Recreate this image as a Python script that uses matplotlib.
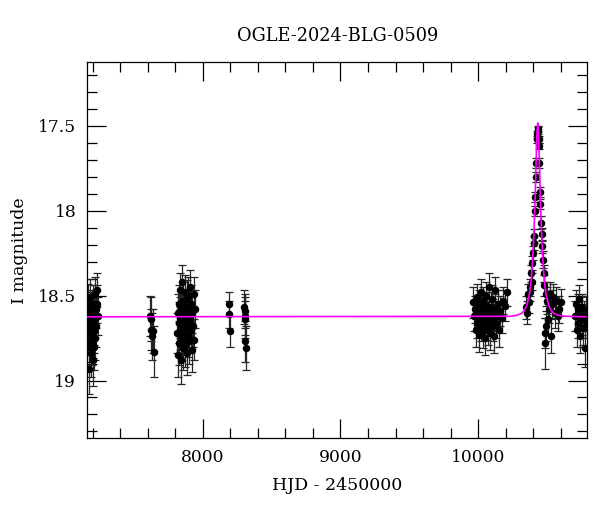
#imports
import numpy as np
import matplotlib
matplotlib.use("Agg")
import matplotlib.pyplot as plt
from matplotlib.ticker import MultipleLocator

#photometry (HJD-2450000, I mag, error)
#season 1 (left edge)
t1 = [7168, 7170, 7172, 7173, 7175, 7176, 7178, 7180, 7181, 7183,
      7185, 7186, 7188, 7190, 7192, 7193, 7195, 7197, 7199, 7201,
      7203, 7205, 7207, 7209, 7211, 7213, 7215, 7218, 7220, 7223,
      7226, 7229, 7233, 7238]
m1 = [18.55, 18.72, 18.62, 18.80, 18.93, 18.68, 18.58, 18.76, 18.64, 18.51,
      18.70, 18.84, 18.60, 18.66, 18.78, 18.57, 18.69, 18.62, 18.88, 18.74,
      18.55, 18.65, 18.71, 18.60, 18.80, 18.67, 18.49, 18.63, 18.75, 18.58,
      18.68, 18.55, 18.47, 18.62]
e1 = [0.12, 0.13, 0.11, 0.14, 0.15, 0.12, 0.10, 0.13, 0.12, 0.11,
      0.13, 0.14, 0.12, 0.11, 0.13, 0.10, 0.12, 0.12, 0.15, 0.13,
      0.11, 0.12, 0.13, 0.11, 0.14, 0.12, 0.10, 0.12, 0.13, 0.11,
      0.12, 0.11, 0.10, 0.11]

#season 2
t2 = [7618, 7622, 7626, 7630, 7636, 7642]
m2 = [18.62, 18.64, 18.70, 18.74, 18.71, 18.83]
e2 = [0.12, 0.13, 0.12, 0.14, 0.13, 0.15]

#season 3
t3 = [7816, 7819, 7822, 7824, 7827, 7829, 7832, 7834, 7837, 7839,
      7842, 7844, 7847, 7849, 7852, 7854, 7857, 7860, 7862, 7865,
      7868, 7870, 7873, 7876, 7879, 7882, 7885, 7888, 7891, 7894,
      7897, 7900, 7903, 7906, 7909, 7912, 7916, 7920, 7924, 7928,
      7933, 7938, 7943]
m3 = [18.72, 18.60, 18.85, 18.66, 18.55, 18.78, 18.63, 18.47, 18.70, 18.88,
      18.58, 18.67, 18.42, 18.75, 18.62, 18.53, 18.81, 18.68, 18.59, 18.73,
      18.48, 18.64, 18.79, 18.57, 18.69, 18.52, 18.84, 18.61, 18.74, 18.50,
      18.66, 18.58, 18.77, 18.45, 18.63, 18.70, 18.55, 18.82, 18.60, 18.68,
      18.49, 18.76, 18.58]
e3 = [0.12, 0.11, 0.13, 0.12, 0.11, 0.13, 0.12, 0.10, 0.12, 0.14,
      0.11, 0.12, 0.10, 0.13, 0.12, 0.11, 0.13, 0.12, 0.11, 0.12,
      0.10, 0.12, 0.13, 0.11, 0.12, 0.11, 0.13, 0.12, 0.12, 0.11,
      0.12, 0.11, 0.13, 0.10, 0.12, 0.12, 0.11, 0.13, 0.12, 0.12,
      0.10, 0.12, 0.11]

#seasons 4 and 5 (few points)
t4 = [8190, 8192, 8194, 8302, 8304, 8306, 8308, 8310, 8312]
m4 = [18.55, 18.61, 18.71, 18.57, 18.59, 18.62, 18.64, 18.77, 18.81]
e4 = [0.07, 0.08, 0.09, 0.10, 0.10, 0.11, 0.11, 0.12, 0.13]

#season 6 (before the event)
t6 = [9966, 9972, 9978, 9984, 9990, 9995, 10000, 10005, 10010, 10014,
      10018, 10022, 10026, 10030, 10034, 10038, 10042, 10046, 10050, 10054,
      10058, 10062, 10066, 10070, 10074, 10078, 10082, 10086, 10090, 10095,
      10100, 10105, 10110, 10115, 10120, 10126, 10132, 10138, 10145, 10152,
      10160, 10170, 10180, 10195, 10208]
m6 = [18.54, 18.62, 18.58, 18.70, 18.51, 18.66, 18.60, 18.73, 18.55, 18.64,
      18.48, 18.68, 18.59, 18.62, 18.71, 18.53, 18.65, 18.58, 18.75, 18.61,
      18.50, 18.67, 18.56, 18.63, 18.69, 18.45, 18.60, 18.72, 18.57, 18.64,
      18.52, 18.68, 18.61, 18.74, 18.58, 18.47, 18.66, 18.62, 18.55, 18.70,
      18.59, 18.63, 18.53, 18.56, 18.48]
e6 = [0.09, 0.09, 0.08, 0.10, 0.08, 0.09, 0.09, 0.10, 0.08, 0.09,
      0.08, 0.09, 0.09, 0.09, 0.10, 0.08, 0.09, 0.09, 0.10, 0.09,
      0.08, 0.09, 0.08, 0.09, 0.10, 0.08, 0.09, 0.10, 0.09, 0.09,
      0.08, 0.09, 0.09, 0.10, 0.09, 0.08, 0.09, 0.09, 0.08, 0.10,
      0.09, 0.09, 0.08, 0.09, 0.08]

#season 7 (the event)
t7 = [10350, 10356, 10362, 10368, 10374, 10380, 10385, 10390, 10395, 10399,
      10403, 10407, 10411, 10415, 10419, 10423, 10427, 10430, 10433, 10436,
      10439, 10442, 10445, 10449, 10453, 10457, 10461, 10466, 10471, 10476,
      10481, 10486, 10490, 10495, 10500, 10506, 10512, 10520, 10528, 10536,
      10545, 10555, 10565, 10578, 10590, 10602, 10488]
m7 = [18.57, 18.60, 18.49, 18.54, 18.45, 18.48, 18.37, 18.42, 18.31, 18.25,
      18.19, 18.15, 18.00, 17.92, 17.80, 17.72, 17.58, 17.55, 17.53, 17.52,
      17.58, 17.62, 17.72, 17.89, 17.96, 18.07, 18.14, 18.21, 18.29, 18.37,
      18.44, 18.72, 18.49, 18.68, 18.53, 18.64, 18.58, 18.49, 18.74, 18.55,
      18.51, 18.60, 18.53, 18.62, 18.58, 18.54, 18.78]
e7 = [0.07, 0.07, 0.06, 0.06, 0.05, 0.05, 0.05, 0.05, 0.04, 0.04,
      0.04, 0.04, 0.03, 0.03, 0.03, 0.03, 0.02, 0.02, 0.02, 0.02,
      0.02, 0.02, 0.03, 0.03, 0.03, 0.04, 0.04, 0.04, 0.05, 0.05,
      0.06, 0.09, 0.07, 0.09, 0.08, 0.09, 0.08, 0.07, 0.10, 0.08,
      0.08, 0.09, 0.08, 0.09, 0.08, 0.08, 0.15]

#season 8 (right edge)
t8 = [10704, 10710, 10716, 10722, 10728, 10734, 10740, 10746, 10752, 10758,
      10764, 10770, 10776, 10782, 10788]
m8 = [18.62, 18.55, 18.70, 18.58, 18.66, 18.52, 18.74, 18.60, 18.64, 18.57,
      18.69, 18.62, 18.81, 18.59, 18.66]
e8 = [0.09, 0.08, 0.10, 0.09, 0.09, 0.08, 0.10, 0.09, 0.09, 0.08,
      0.10, 0.09, 0.11, 0.09, 0.09]

#model curve
model_t = [7160, 10233, 10283, 10313, 10333, 10353, 10373, 10383, 10393, 10403,
           10408, 10413, 10418, 10423, 10428, 10433, 10438, 10443, 10448, 10453,
           10458, 10463, 10473, 10483, 10493, 10513, 10533, 10553, 10583, 10633,
           10800]
model_mag = [18.625, 18.622, 18.616, 18.606, 18.591, 18.560, 18.491, 18.428, 18.330, 18.178,
             18.075, 17.952, 17.810, 17.660, 17.535, 17.484, 17.535, 17.660, 17.810, 17.952,
             18.075, 18.178, 18.330, 18.428, 18.491, 18.560, 18.591, 18.606, 18.616, 18.622,
             18.625]

hjd = np.concatenate([t1, t2, t3, t4, t6, t7, t8])
imag = np.concatenate([m1, m2, m3, m4, m6, m7, m8])
ierr = np.concatenate([e1, e2, e3, e4, e6, e7, e8])

plt.rcParams['font.family'] = ['DejaVu Serif']
plt.rcParams['font.size'] = 12

fig = plt.figure(figsize=(6, 5.12), dpi=100)
ax = fig.add_axes([0.1455, 0.144, 0.8333, 0.7343])

ax.errorbar(hjd, imag, yerr=ierr, fmt='o', color='black', ecolor='0.15',
            markersize=4.4, elinewidth=0.9, capsize=2.6, capthick=0.9, zorder=2)
ax.plot(model_t, model_mag, color='#ff00ff', lw=1.2, zorder=3)

ax.set_xlim(7161, 10793)
ax.set_ylim(19.34, 17.127)#inverted for magnitudes

#ticks on all sides, pointing in
ax.xaxis.set_major_locator(MultipleLocator(1000))
ax.xaxis.set_minor_locator(MultipleLocator(200))
ax.yaxis.set_major_locator(MultipleLocator(0.5))
ax.yaxis.set_minor_locator(MultipleLocator(0.1))
ax.yaxis.set_major_formatter(plt.FuncFormatter(lambda v, p: '%g' % v))
ax.tick_params(which='both', direction='in', top=True, right=True, width=0.9)
ax.tick_params(which='major', length=13.5, pad=8, labelsize=12.3)
ax.tick_params(which='minor', length=7)
for s in ax.spines.values():
    s.set_linewidth(0.9)

ax.set_xlabel('HJD - 2450000', labelpad=8, fontsize=12.5)
ax.set_ylabel('I magnitude', labelpad=7, fontsize=12.5)
ax.set_title('OGLE-2024-BLG-0509', pad=15, fontsize=12.8)

fig.savefig('out.png', dpi=100)
